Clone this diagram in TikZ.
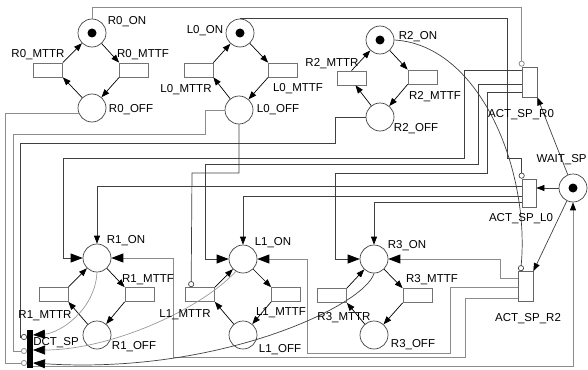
\documentclass[tikz,border=0pt]{standalone}
\usepackage{fontspec}
\setmainfont{Liberation Sans}
\usetikzlibrary{arrows.meta,positioning}

\begin{document}
\begin{tikzpicture}[x=1pt,y=-1pt,line width=0.7pt,
  >={Triangle[length=8pt,width=6pt,color=black]},
  plc/.style={circle,draw=black!75,minimum size=28pt,inner sep=0pt},
  trn/.style={rectangle,draw=black!55,minimum width=29pt,minimum height=14pt,inner sep=0pt},
  vtrn/.style={rectangle,draw=black!60,minimum width=15pt,minimum height=30pt,inner sep=0pt},
  lbl/.style={font=\fontsize{11.5}{13}\selectfont,inner sep=0pt,text height=8.4pt,text depth=0pt},
  wire/.style={draw=black!75},
  wireg/.style={draw=black!45,line width=0.8pt},
  inh/.style={-{Circle[open,length=6pt]}},
  big/.style={-{Triangle[length=12pt,width=9pt,color=black]}}]
\useasboundingbox (0,0) rectangle (588,369);

% places and transitions, upper row
\node[plc] (R0-on) at (92,33) {};
\node[plc] (R0-off) at (92,108) {};
\node[trn] (R0-mttr) at (48,70) {};
\node[trn] (R0-mttf) at (134,70) {};
\node[plc] (L0-on) at (240,33) {};
\node[plc] (L0-off) at (239,110) {};
\node[trn] (L0-mttr) at (198.5,70) {};
\node[trn] (L0-mttf) at (283,70) {};
\node[plc] (R2-on) at (380,40) {};
\node[plc] (R2-off) at (380,117) {};
\node[trn] (R2-mttr) at (351.5,78) {};
\node[trn] (R2-mttf) at (422.5,77) {};
% lower row
\node[plc] (R1-on) at (97,258) {};
\node[plc] (R1-off) at (97,335) {};
\node[trn] (R1-mttr) at (53.5,294.5) {};
\node[trn] (R1-mttf) at (139.5,294.5) {};
\node[plc] (L1-on) at (243,259) {};
\node[plc] (L1-off) at (243,335) {};
\node[trn] (L1-mttr) at (200,294.5) {};
\node[trn] (L1-mttf) at (286,294.5) {};
\node[plc] (R3-on) at (374,259) {};
\node[plc] (R3-off) at (374,335) {};
\node[trn] (R3-mttr) at (332,295.5) {};
\node[trn] (R3-mttf) at (417.5,295.5) {};
% spare
\node[plc] (WAITsp) at (573,188) {};
\node[vtrn] (ACTR0) at (529.5,82) {};
\node[vtrn,minimum width=14pt,minimum height=28pt] (ACTL0) at (529,193) {};
\node[vtrn] (ACTR2) at (525.5,286.5) {};
\node[fill=black,minimum width=6pt,minimum height=38pt,inner sep=0pt] (DCTsp) at (30,349) {};
\coordinate (d1) at (27,337);
\coordinate (d2) at (27,351);
\coordinate (d3) at (27,363);
\coordinate (e1) at (33,335);
\coordinate (e2) at (33,350);
\coordinate (e3) at (33,363);

\foreach \p in {R0-on,L0-on,R2-on,WAITsp}
  \fill (\p) circle[radius=4.5pt];

% failure / repair cycles
\foreach \n in {R0,L0,R1,L1,R3}{
  \draw[->] (\n-on) -- (\n-mttf.north west);
  \draw[->] (\n-mttf.south west) -- (\n-off);
  \draw[->] (\n-off) -- (\n-mttr.south east);
  \draw[->] (\n-mttr.north east) -- (\n-on);
}
\draw[->] (R2-on) -- (R2-mttf.north west);
\draw[->] (R2-mttf.south west) -- (R2-off);
\draw[->] (R2-off) -- ([xshift=4pt]R2-mttr.south);
\draw[->] (R2-mttr.north) -- (R2-on);

% inhibitors on the ACT_SP transitions
\draw[wireg,inh] (R0-on.north) -- ++(0,-11) -| (ACTR0.north west);
\draw[wire,inh] (L0-on.north) -| (507,158) -| (ACTL0.north west);
\draw[wire,inh] (R2-on.east) .. controls (480,45) and (530,170) .. ([xshift=3pt]ACTR2.north west);
\draw[wire,inh] (L0-off.south) |- (192,173) -- ([xshift=6pt]L1-mttr.north west);

% WAIT_SP
\draw[wire,->] (WAITsp) -- (ACTR0.south east);
\draw[wire,->] (WAITsp.west) -- (WAITsp.west -| ACTL0.east);
\draw[wire,->] (WAITsp) -- (ACTR2.north east);
\draw[wireg,->] ([yshift=2pt]DCTsp.south east) -| (WAITsp.south);

% ACT_SP outputs
\draw[wire,big] ([yshift=-4pt]ACTR0.north west) -| (464,158) -| (63,258) -- (R1-on.west);
\draw[wire,big] ([yshift=-18pt]ACTR0.north west) -| (478,164) -| (205,259) -- (L1-on.west);
\draw[wire,big] ([yshift=-26pt]ACTR0.north west) -| (487,173) -| (335,259) -- (R3-on.west);
\draw[wire,->] ([yshift=-8pt]ACTL0.north west) -| (R1-on.north);
\draw[wire,->] ([yshift=-18pt]ACTL0.north west) -| (L1-on.north);
\draw[wire,->] ([yshift=-24pt]ACTL0.north west) -| (R3-on.north);
\draw[wireg,big] ([yshift=-7pt]ACTR2.north west) -| (500,259) -- (R3-on.east);
\draw[wireg,big] ([yshift=-16pt]ACTR2.north west) -| (450,353) -| (307,259) -- (L1-on.east);
\draw[wireg,big] ([yshift=-27pt]ACTR2.north west) -| (465,357) -| (173,258) -- (R1-on.east);

% DCT_SP
\draw[wireg,inh] (R0-off.201) -| (5,363) -- (d3);
\draw[wireg,inh] (L0-off.west) -| (205,134) -| (13,351) -- (d2);
\draw[wire,inh] (R2-off.west) -| (335,143) -| (20,337) -- (d1);
\draw[draw=black!40,big] (R1-on.south) .. controls (95,310) and (60,333) .. (e1);
\draw[draw=black!40,big] (L1-on.240) .. controls (200,310) and (110,350) .. (e2);
\draw[wire,big] (R3-on.south) .. controls (365,305) and (220,375) .. (e3);

% names
\node[lbl] (R0-on-l) at (127,20) {R0\_ON};
\node[lbl] (R0-mttr-l) at (38,53) {R0\_MTTR};
\node[lbl] (R0-mttf-l) at (143,53) {R0\_MTTF};
\node[lbl] (R0-off-l) at (131,108) {R0\_OFF};
\node[lbl] (L0-on-l) at (205,29) {L0\_ON};
\node[lbl] (L0-mttr-l) at (186,88) {L0\_MTTR};
\node[lbl] (L0-mttf-l) at (298,87) {L0\_MTTF};
\node[lbl] (L0-off-l) at (278,108) {L0\_OFF};
\node[lbl] (R2-on-l) at (418,35) {R2\_ON};
\node[lbl] (R2-mttr-l) at (332,62) {R2\_MTTR};
\node[lbl] (R2-mttf-l) at (435,95) {R2\_MTTF};
\node[lbl] (R2-off-l) at (416,127) {R2\_OFF};
\node[lbl] (R1-on-l) at (126,239) {R1\_ON};
\node[lbl] (R1-mttr-l) at (45,314) {R1\_MTTR};
\node[lbl] (R1-mttf-l) at (148,278) {R1\_MTTF};
\node[lbl] (R1-off-l) at (134,345) {R1\_OFF};
\node[lbl] (L1-on-l) at (273,241) {L1\_ON};
\node[lbl] (L1-mttr-l) at (185,313) {L1\_MTTR};
\node[lbl] (L1-mttf-l) at (281,311) {L1\_MTTF};
\node[lbl] (L1-off-l) at (280,348) {L1\_OFF};
\node[lbl] (R3-on-l) at (407,244) {R3\_ON};
\node[lbl] (R3-mttr-l) at (344,316) {R3\_MTTR};
\node[lbl] (R3-mttf-l) at (432,278) {R3\_MTTF};
\node[lbl] (R3-off-l) at (413,343) {R3\_OFF};
\node[lbl,anchor=east] (WAITsp-l) at (587,158) {WAIT\_SP};
\node[lbl] (ACTR0-l) at (521,113) {ACT\_SP\_R0};
\node[lbl] (ACTL0-l) at (521,217) {ACT\_SP\_L0};
\node[lbl] (ACTR2-l) at (528,317) {ACT\_SP\_R2};
\node[lbl] (DCTsp-l) at (56,341) {DCT\_SP};
\end{tikzpicture}
\end{document}
